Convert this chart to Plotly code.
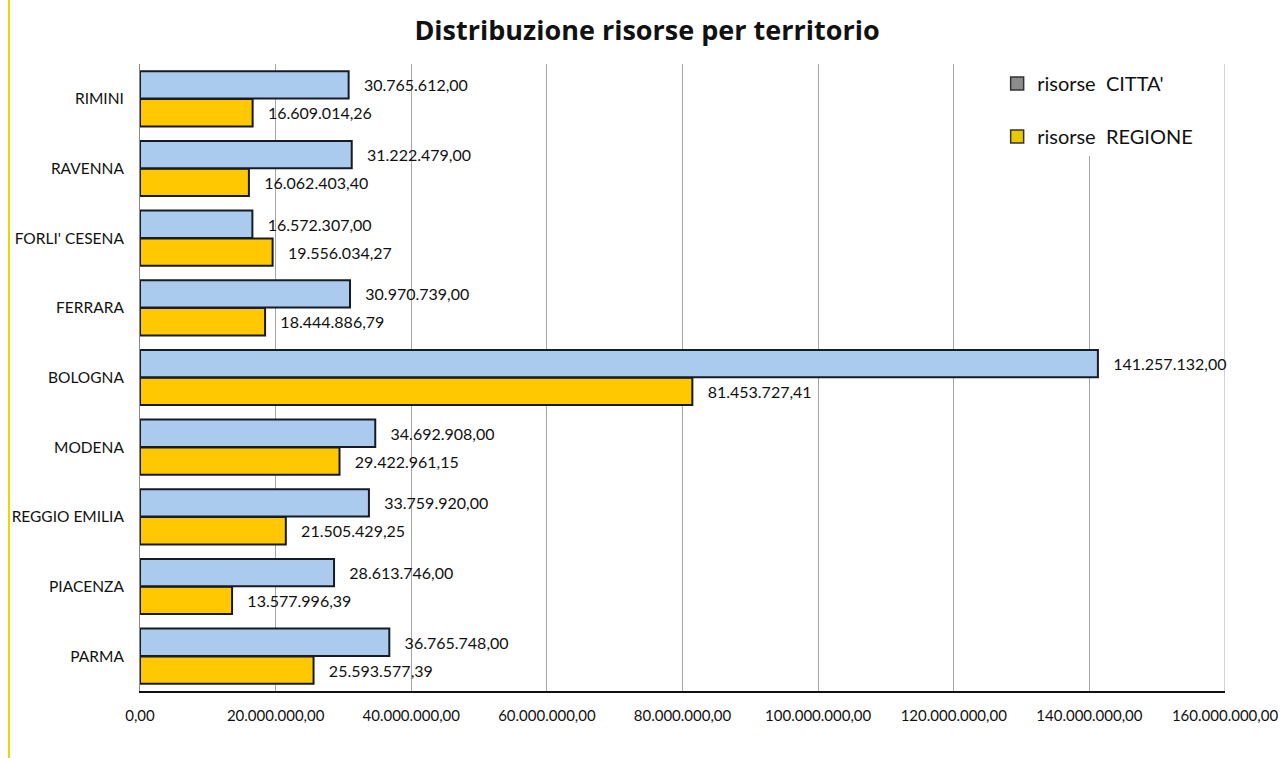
import plotly.graph_objects as go

# Territories, bottom to top as drawn on the category axis
territori = ["PARMA", "PIACENZA", "REGGIO EMILIA", "MODENA", "BOLOGNA",
             "FERRARA", "FORLI' CESENA", "RAVENNA", "RIMINI"]

risorse_citta = [36765748.00, 28613746.00, 33759920.00, 34692908.00, 141257132.00,
                 30970739.00, 16572307.00, 31222479.00, 30765612.00]

risorse_regione = [25593577.39, 13577996.39, 21505429.25, 29422961.15, 81453727.41,
                   18444886.79, 19556034.27, 16062403.40, 16609014.26]

x_ticks = [0, 20e6, 40e6, 60e6, 80e6, 100e6, 120e6, 140e6, 160e6]

FONT = "Lato"
OUTLINE = "#161b26"
PAD = "\u00a0\u00a0\u00a0"

fig = go.Figure()

# Regione first so that Citta' sits on top within each group
fig.add_trace(go.Bar(
    y=territori, x=risorse_regione, orientation="h", name="risorse  REGIONE",
    marker=dict(color="#ffc800", line=dict(color=OUTLINE, width=2)),
    texttemplate=PAD + "%{x:,.2f}", textposition="outside", cliponaxis=False,
    textfont=dict(family=FONT, size=16, color="#111111"),
    showlegend=False,
))
fig.add_trace(go.Bar(
    y=territori, x=risorse_citta, orientation="h", name="risorse  CITTA'",
    marker=dict(color="#abcbee", line=dict(color=OUTLINE, width=2)),
    texttemplate=PAD + "%{x:,.2f}", textposition="outside", cliponaxis=False,
    textfont=dict(family=FONT, size=16, color="#111111"),
    showlegend=False,
))

# Legend entries with square swatches
fig.add_trace(go.Scatter(
    x=[None], y=[None], mode="markers", name="risorse  CITTA'",
    marker=dict(symbol="square", size=13, color="#8c8c8c", line=dict(color="#333333", width=1.5)),
    legendgroup="a", legendrank=1,
))
fig.add_trace(go.Scatter(
    x=[None], y=[None], mode="markers", name="risorse  REGIONE",
    marker=dict(symbol="square", size=13, color="#e8c800", line=dict(color="#333333", width=1.5)),
    legendgroup="b", legendrank=2,
))

fig.update_layout(
    width=1282, height=758,
    paper_bgcolor="white", plot_bgcolor="white",
    margin=dict(l=140, r=57, t=64, b=67, autoexpand=False),
    separators=",.",
    barmode="group", bargap=0.2, bargroupgap=0.02,
    font=dict(family=FONT, size=15, color="#111111"),
    title=dict(text="<b>Distribuzione risorse per territorio</b>",
               x=647 / 1282, xanchor="center", xref="container",
               y=1 - 31 / 758, yanchor="middle",
               font=dict(family="Open Sans", size=27, color="#111111")),
    xaxis=dict(range=[0, 160e6], tickvals=x_ticks, tickformat=",.2f",
               showgrid=True, gridcolor="#a6a6a6", gridwidth=1,
               showline=True, linecolor="#111111", linewidth=2,
               zeroline=False, ticks="", ticklabelstandoff=10, automargin=False,
               tickfont=dict(family=FONT, size=15, color="#111111")),
    yaxis=dict(showline=True, linecolor="#8a8a8a", linewidth=1,
               ticks="", ticklabelstandoff=12, automargin=False,
               tickfont=dict(family=FONT, size=15.5, color="#111111")),
    legend=dict(x=0.79, y=1.0, xanchor="left", yanchor="top",
                bgcolor="white", borderwidth=0,
                font=dict(family=FONT, size=20, color="#111111"),
                tracegroupgap=24, itemwidth=30),
    shapes=[
        # right edge gridline at the end of the value range
        dict(type="line", xref="x", yref="paper", x0=160e6, x1=160e6, y0=0, y1=1,
             line=dict(color="#a6a6a6", width=1), layer="below"),
        dict(type="line", xref="paper", yref="paper",
             x0=-131 / 1085, x1=-131 / 1085, y0=1 + 64 / 627, y1=-67 / 627,
             line=dict(color="#e6d800", width=2)),
    ],
)

fig.write_html("out.html")
